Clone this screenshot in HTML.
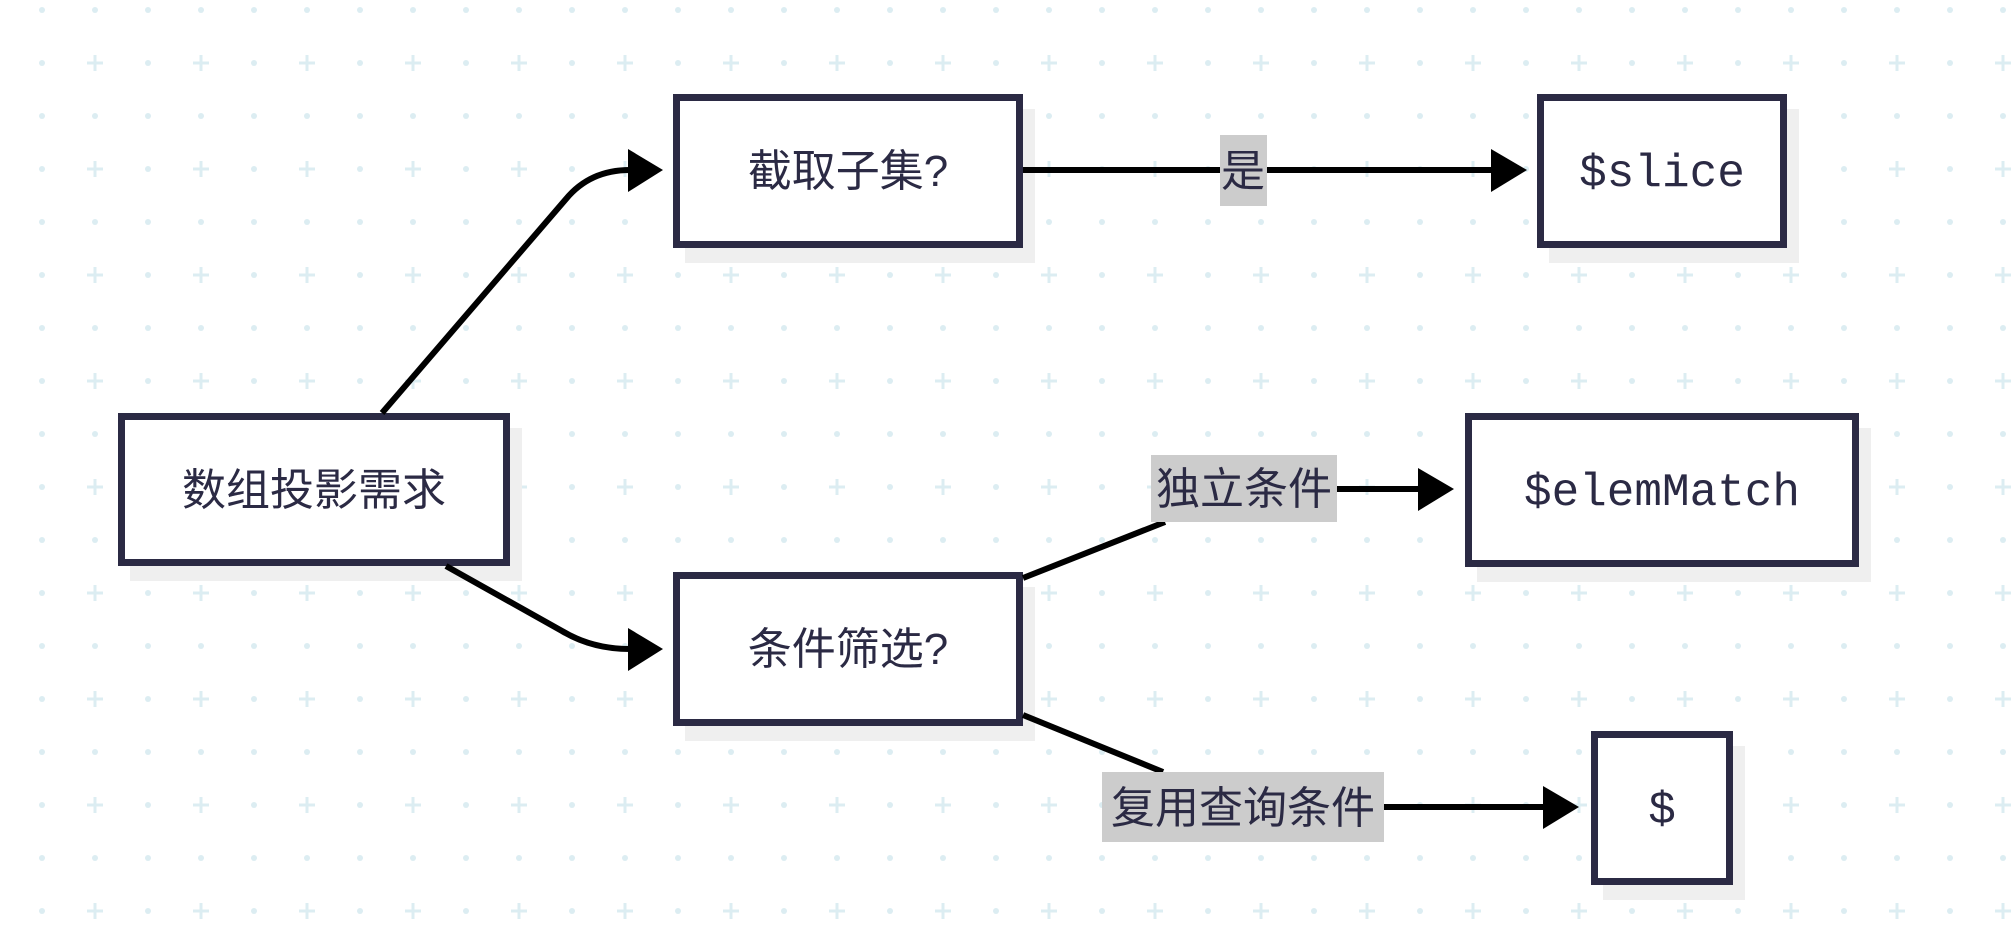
<!DOCTYPE html>
<html><head><meta charset="utf-8"><style>
html,body{margin:0;padding:0;background:#fff;}
svg{display:block;}
.cj{font-family:"Liberation Sans","Noto Sans CJK SC",sans-serif;font-size:44px;fill:#2b2a44;}
.mo{font-family:"Liberation Mono","DejaVu Sans Mono",monospace;font-size:46px;fill:#2b2a44;}
</style></head><body>
<svg width="2016" height="944" viewBox="0 0 2016 944" xmlns="http://www.w3.org/2000/svg">
<defs>
<pattern id="g" x="15.5" y="-16.5" width="106" height="106" patternUnits="userSpaceOnUse">
<circle cx="26.5" cy="26.5" r="3" fill="#dcedf2"/>
<circle cx="79.5" cy="26.5" r="3" fill="#dcedf2"/>
<circle cx="26.5" cy="79.5" r="3" fill="#dcedf2"/>
<path d="M79.5 71.5v16M71.5 79.5h16" stroke="#dcedf2" stroke-width="3"/>
</pattern>
</defs>
<rect width="2016" height="944" fill="url(#g)"/>
<g fill="#efefef">
<rect x="130" y="428" width="392" height="153"/>
<rect x="685" y="109" width="350" height="154"/>
<rect x="1549" y="109" width="250" height="154"/>
<rect x="1477" y="428" width="394" height="154"/>
<rect x="685" y="587" width="350" height="154"/>
<rect x="1603" y="746" width="142" height="154"/>
</g>
<g fill="#fff" stroke="#2b2a44" stroke-width="7">
<rect x="121.5" y="416.5" width="385" height="146"/>
<rect x="676.5" y="97.5" width="343" height="147"/>
<rect x="1540.5" y="97.5" width="243" height="147"/>
<rect x="1468.5" y="416.5" width="387" height="147"/>
<rect x="676.5" y="575.5" width="343" height="147"/>
<rect x="1594.5" y="734.5" width="135" height="147"/>
</g>
<g fill="none" stroke="#000" stroke-width="6">
<path d="M382 413 L566 199 Q590 170 630 170"/>
<path d="M446 566 L562 631 Q592 649 630 649"/>
<path d="M1023 170 H1495"/>
<path d="M1023 578 L1165 522"/>
<path d="M1337 489 H1420"/>
<path d="M1023 715 L1163 772"/>
<path d="M1384 807 H1545"/>
</g>
<g fill="#000">
<polygon points="628,149 663,170 628,192"/>
<polygon points="628,628 663,649 628,671"/>
<polygon points="1491,149 1527,170 1491,192"/>
<polygon points="1418,468 1454,489 1418,511"/>
<polygon points="1543,786 1579,807 1543,829"/>
</g>
<g fill="#cccccc">
<rect x="1220" y="135" width="47" height="71"/>
<rect x="1151" y="455" width="186" height="67"/>
<rect x="1102" y="772" width="282" height="70"/>
</g>
<g class="cj" text-anchor="middle">
<text x="314" y="505">数组投影需求</text>
<text x="848" y="186">截取子集?</text>
<text x="848" y="664">条件筛选?</text>
<text x="1243" y="186">是</text>
<text x="1244" y="504">独立条件</text>
<text x="1243" y="823">复用查询条件</text>
</g>
<g class="mo" text-anchor="middle">
<text x="1662" y="186">$slice</text>
<text x="1662" y="505">$elemMatch</text>
<text x="1662" y="823">$</text>
</g>
</svg>
</body></html>
